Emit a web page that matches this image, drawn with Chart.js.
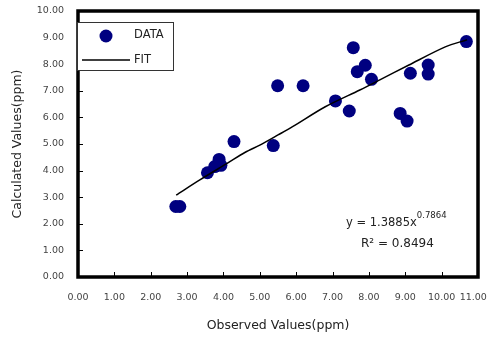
<!DOCTYPE html>
<html>
<head>
<meta charset="utf-8">
<script src="https://cdn.jsdelivr.net/npm/chart.js@4.4.1/dist/chart.umd.min.js"></script>
<style>
  html, body { margin: 0; padding: 0; background: #fff; }
  #wrap { width: 488px; height: 337px; }
</style>
</head>
<body>
<div id="wrap"><canvas id="myChart"></canvas></div>
<script>
// observed vs calculated values
let obsX = [2.69, 2.80, 3.56, 3.76, 3.88, 3.93, 4.29, 5.37, 5.49, 6.19, 7.08, 7.46, 7.57, 7.68, 7.90, 8.07, 8.86, 9.05, 9.14, 9.63, 9.63, 10.68];
let calcY = [2.65, 2.65, 3.92, 4.15, 4.42, 4.20, 5.09, 4.94, 7.19, 7.19, 6.62, 6.24, 8.62, 7.72, 7.96, 7.43, 6.15, 5.86, 7.66, 7.97, 7.63, 8.85];

// fitted curve
let fitX = [2.70, 3.35, 4.10, 4.60, 5.00, 5.50, 5.90, 6.80, 7.75, 8.30, 9.10, 10.10, 10.70];
let fitY = [3.08, 3.65, 4.27, 4.69, 4.96, 5.34, 5.65, 6.40, 7.03, 7.41, 7.97, 8.65, 8.92];

let xTicks = [0, 1, 2, 3, 4, 5, 6, 7, 8, 9, 10, 11];
let yTicks = [0, 1, 2, 3, 4, 5, 6, 7, 8, 9, 10];

let eqText = "y = 1.3885x";
let eqPower = "0.7864";
let r2Text = "R² = 0.8494";

let navy = "#000080";
let fontName = "'DejaVu Sans', sans-serif";

let dataPts = obsX.map((x, i) => ({ x: x, y: calcY[i] }));
let fitPts = fitX.map((x, i) => ({ x: x, y: fitY[i] }));

// frame, inner ticks, legend box and equation text
const extras = {
  id: "extras",
  afterDatasetsDraw(chart) {
    const ctx = chart.ctx;
    const a = chart.chartArea;
    const xs = chart.scales.x;
    const ys = chart.scales.y;
    ctx.save();

    // tick marks pointing inside
    ctx.strokeStyle = "#000";
    ctx.lineWidth = 1;
    ctx.beginPath();
    xs.ticks.forEach(t => {
      const px = Math.round(xs.getPixelForValue(t.value)) + 0.5;
      ctx.moveTo(px, a.bottom);
      ctx.lineTo(px, a.bottom - 5);
    });
    ys.ticks.forEach(t => {
      const py = Math.round(ys.getPixelForValue(t.value)) + 0.5;
      ctx.moveTo(a.left, py);
      ctx.lineTo(a.left + 5, py);
    });
    ctx.stroke();

    // thick frame
    ctx.lineWidth = 3.5;
    ctx.strokeRect(a.left, a.top, a.right - a.left, a.bottom - a.top);

    // legend
    ctx.fillStyle = "#fff";
    ctx.fillRect(77, 22, 97, 49);
    ctx.strokeStyle = "#333";
    ctx.lineWidth = 1;
    ctx.strokeRect(77.5, 22.5, 96, 48);

    const ds = chart.data.datasets;
    ctx.fillStyle = ds[0].backgroundColor;
    ctx.beginPath();
    ctx.arc(106, 36, 6.5, 0, Math.PI * 2);
    ctx.fill();

    ctx.strokeStyle = ds[1].borderColor;
    ctx.lineWidth = 1.5;
    ctx.beginPath();
    ctx.moveTo(82, 60);
    ctx.lineTo(130, 60);
    ctx.stroke();

    ctx.fillStyle = "#222";
    ctx.font = "11.5px " + fontName;
    ctx.textBaseline = "middle";
    ctx.textAlign = "left";
    ctx.fillText(ds[0].label, 134, 35);
    ctx.fillText(ds[1].label, 134, 60);

    // equation
    ctx.font = "11.5px " + fontName;
    ctx.fillText(eqText, 346, 223);
    const w = ctx.measureText(eqText).width;
    ctx.font = "8.5px " + fontName;
    ctx.fillText(eqPower, 346 + w, 216);
    ctx.font = "12px " + fontName;
    ctx.fillText(r2Text, 361, 244);

    ctx.restore();
  }
};

let scatterChart = new Chart("myChart", {
  type: "scatter",
  data: {
    datasets: [
      {
        label: "DATA",
        data: dataPts,
        backgroundColor: navy,
        borderColor: navy,
        pointRadius: 6.5,
        pointHoverRadius: 6.5,
        borderWidth: 0,
        order: 1
      },
      {
        label: "FIT",
        type: "line",
        data: fitPts,
        borderColor: "#000",
        borderWidth: 1.5,
        pointRadius: 0,
        fill: false,
        tension: 0.3,
        order: 0
      }
    ]
  },
  options: {
    responsive: true,
    maintainAspectRatio: false,
    animation: false,
    layout: { padding: 0 },
    plugins: {
      legend: { display: false },
      tooltip: { enabled: false }
    },
    scales: {
      x: {
        type: "linear",
        min: 0,
        max: 11,
        afterBuildTicks: s => { s.ticks = xTicks.map(v => ({ value: v })); },
        afterFit: s => { s.height = 60; s.paddingRight = 10; },
        grid: { display: false, drawTicks: false },
        border: { display: false },
        ticks: {
          padding: 15,
          maxRotation: 0,
          autoSkip: false,
          color: "#444",
          font: { family: fontName, size: 9.5 },
          // last label is nudged left so it stays inside the canvas
          callback: v => v === 11 ? v.toFixed(2) + "\u2002\u2002" : v.toFixed(2)
        },
        title: {
          display: true,
          text: "Observed Values(ppm)",
          color: "#222",
          font: { family: fontName, size: 12.5 },
          padding: { top: 0, bottom: 4 }
        }
      },
      y: {
        type: "linear",
        min: 0,
        max: 10,
        afterBuildTicks: s => { s.ticks = yTicks.map(v => ({ value: v })); },
        afterFit: s => { s.width = 78; s.paddingTop = 11; },
        grid: { display: false, drawTicks: false },
        border: { display: false },
        ticks: {
          padding: 14,
          autoSkip: false,
          color: "#444",
          font: { family: fontName, size: 9.5 },
          callback: v => v.toFixed(2)
        },
        title: {
          display: true,
          text: "Calculated Values(ppm)",
          color: "#222",
          font: { family: fontName, size: 12.5 },
          padding: { top: 10, bottom: 0 }
        }
      }
    }
  },
  plugins: [extras]
});
</script>
</body>
</html>
